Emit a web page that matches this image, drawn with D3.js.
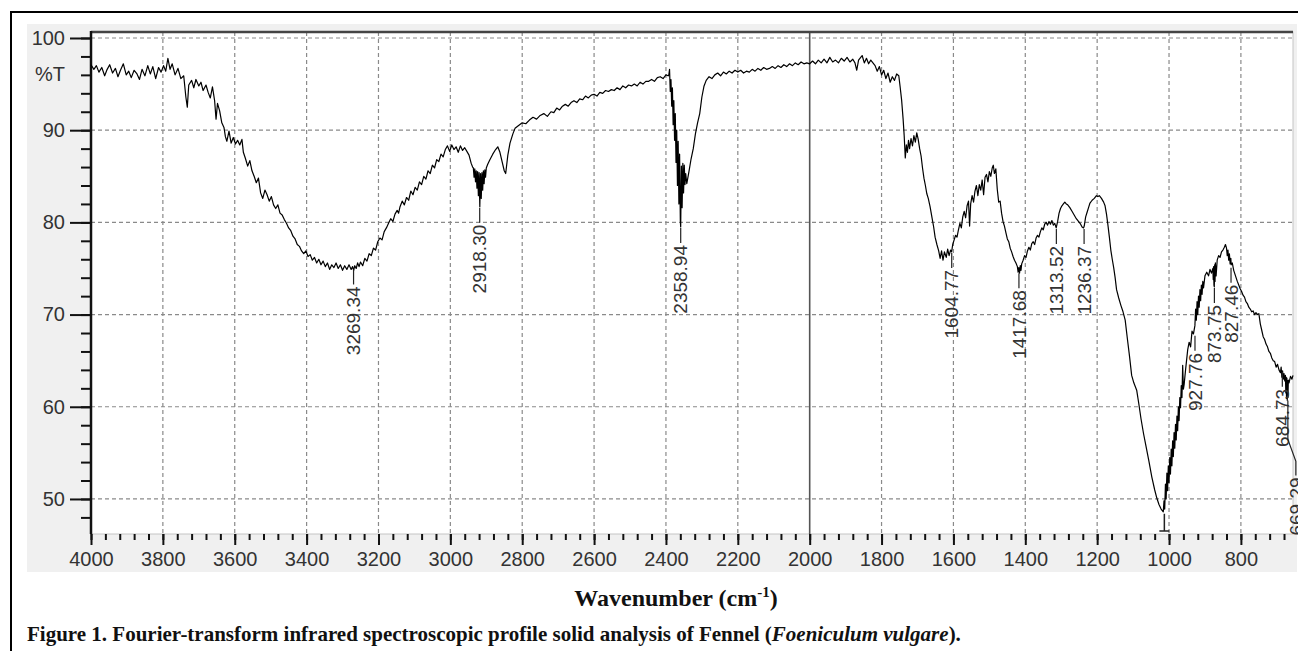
<!DOCTYPE html>
<html>
<head>
<meta charset="utf-8">
<script src="https://cdn.jsdelivr.net/npm/d3@7/dist/d3.min.js"></script>
<style>
    body { margin: 0; background: #fff; }
    svg { display: block; }
</style>
</head>
<body>
<div id="chart-area"></div>
<script>

// DATA
// =====

// [wavenumber (cm-1), %T]
var spectrum = [
    [4000, 97.1], [3992, 96.6], [3985, 97.0], [3978, 96.3], [3970, 96.8], [3962, 95.9], [3955, 96.6], [3948, 97.1],
    [3940, 96.2], [3932, 96.7], [3925, 95.8], [3918, 96.5], [3910, 97.2], [3902, 96.0], [3895, 96.4], [3888, 95.7],
    [3880, 96.5], [3872, 96.1], [3865, 95.5], [3858, 96.6], [3850, 95.9], [3842, 97.0], [3835, 96.1], [3828, 96.9],
    [3820, 95.6], [3812, 96.8], [3805, 96.3], [3798, 97.0], [3792, 96.4], [3786, 97.8], [3780, 96.6], [3774, 97.2],
    [3766, 96.0], [3758, 96.7], [3750, 95.6], [3742, 95.9], [3736, 93.6], [3732, 92.5], [3728, 94.9], [3720, 95.4],
    [3714, 94.6], [3708, 95.5], [3700, 94.8], [3694, 95.2], [3688, 94.3], [3680, 94.9], [3674, 94.1], [3668, 93.5],
    [3662, 94.7], [3656, 93.2], [3652, 91.2], [3648, 92.9], [3642, 92.1], [3636, 90.8], [3630, 90.3], [3626, 89.3],
    [3622, 88.8], [3616, 89.9], [3610, 88.6], [3604, 89.2], [3598, 88.5], [3592, 88.9], [3586, 88.4], [3580, 89.0],
    [3576, 87.6], [3570, 86.9], [3564, 86.1], [3558, 86.7], [3552, 85.6], [3546, 85.0], [3540, 84.3], [3534, 84.8],
    [3528, 83.2], [3522, 82.6], [3516, 83.5], [3510, 83.0], [3504, 82.3], [3498, 82.8], [3492, 81.9], [3486, 81.5],
    [3480, 81.9], [3474, 81.0], [3468, 80.8], [3462, 80.3], [3456, 79.9], [3450, 79.4], [3444, 79.1], [3438, 78.5],
    [3432, 78.2], [3426, 77.6], [3420, 77.4], [3414, 76.9], [3408, 76.6], [3402, 76.9], [3396, 76.3], [3390, 76.5],
    [3384, 75.9], [3378, 76.2], [3372, 75.6], [3366, 76.0], [3360, 75.4], [3354, 75.8], [3348, 75.2], [3342, 75.6],
    [3336, 74.9], [3330, 75.4], [3324, 75.1], [3318, 75.6], [3312, 75.0], [3306, 75.4], [3300, 74.8], [3294, 75.3],
    [3288, 74.9], [3282, 75.4], [3276, 74.9], [3272, 75.2], [3269, 74.8], [3266, 75.3], [3262, 75.0], [3258, 75.6],
    [3254, 75.2], [3250, 75.7], [3244, 75.3], [3238, 76.1], [3232, 75.8], [3226, 76.6], [3220, 76.4], [3214, 77.2],
    [3208, 77.0], [3202, 77.9], [3196, 78.3], [3190, 78.1], [3184, 79.0], [3178, 79.4], [3172, 79.9], [3166, 80.4],
    [3160, 80.1], [3154, 80.9], [3148, 81.3], [3144, 81.0], [3140, 81.7], [3134, 82.3], [3128, 81.9], [3122, 82.7],
    [3116, 82.4], [3110, 83.4], [3104, 83.0], [3098, 83.8], [3092, 83.5], [3086, 84.4], [3080, 84.1], [3074, 85.0],
    [3068, 84.7], [3062, 85.6], [3056, 85.3], [3050, 86.2], [3044, 85.9], [3038, 86.8], [3032, 86.6], [3026, 87.4],
    [3020, 87.1], [3014, 87.9], [3008, 88.3], [3002, 87.7], [2996, 88.4], [2990, 87.9], [2984, 88.2], [2978, 87.6],
    [2972, 88.3], [2966, 87.8], [2960, 88.1], [2954, 87.7], [2948, 87.3], [2942, 86.4], [2938, 86.0],
    [2936, 85.9], [2934, 84.9], [2932, 85.8], [2930, 84.4], [2928, 85.6], [2926, 83.7], [2924, 85.5], [2922, 82.9],
    [2920, 85.4], [2918, 81.7], [2916, 85.3], [2914, 82.6], [2912, 85.4], [2910, 83.5], [2908, 85.6], [2906, 84.2],
    [2904, 85.7], [2902, 84.9], [2900, 85.9], [2896, 86.3], [2890, 86.8], [2882, 87.4], [2874, 87.9], [2868, 88.2],
    [2862, 87.6], [2856, 86.6], [2850, 85.6], [2846, 85.3], [2840, 87.3], [2834, 88.6], [2826, 89.6], [2820, 90.2],
    [2810, 90.5], [2800, 90.8], [2790, 90.7], [2780, 91.1], [2770, 91.4], [2760, 91.2], [2750, 91.6], [2740, 91.8],
    [2730, 91.5], [2720, 92.0], [2712, 91.9], [2704, 92.4], [2696, 92.2], [2688, 92.6], [2680, 92.8], [2672, 92.6],
    [2664, 93.0], [2656, 93.2], [2648, 93.0], [2640, 93.4], [2632, 93.3], [2624, 93.7], [2616, 93.5], [2608, 93.8],
    [2600, 93.9], [2592, 93.7], [2584, 94.1], [2576, 94.0], [2568, 94.3], [2560, 94.2], [2552, 94.4], [2544, 94.3],
    [2536, 94.6], [2528, 94.4], [2520, 94.8], [2512, 94.6], [2504, 94.9], [2496, 94.8], [2488, 95.0], [2480, 94.8],
    [2472, 95.2], [2464, 95.0], [2456, 95.3], [2448, 95.3], [2440, 95.5], [2432, 95.3], [2424, 95.7], [2416, 95.8],
    [2408, 95.6], [2400, 96.0], [2394, 95.9], [2392, 96.0], [2390, 96.6], [2388, 94.2], [2386, 95.5], [2384, 92.6],
    [2382, 94.6], [2380, 90.6], [2378, 93.2], [2376, 88.9], [2374, 91.8], [2372, 86.5], [2370, 90.0], [2368, 84.0],
    [2366, 88.8], [2364, 82.0], [2362, 87.4], [2360, 80.2], [2359, 79.5], [2357, 86.1], [2355, 81.6], [2353, 86.4],
    [2351, 83.2], [2349, 86.2], [2347, 84.1], [2345, 85.3], [2342, 84.2], [2336, 85.5], [2330, 86.9], [2324, 88.0],
    [2318, 89.6], [2312, 90.8], [2306, 91.8], [2300, 93.6], [2294, 94.8], [2288, 95.4], [2280, 95.8], [2272, 95.6],
    [2264, 96.0], [2256, 96.2], [2248, 95.9], [2240, 96.3], [2232, 96.1], [2224, 96.4], [2216, 96.2], [2208, 96.5],
    [2200, 96.3], [2192, 96.5], [2184, 96.2], [2176, 96.4], [2168, 96.3], [2160, 96.6], [2152, 96.4], [2144, 96.7],
    [2136, 96.5], [2128, 96.8], [2120, 96.6], [2112, 96.7], [2104, 96.9], [2096, 96.7], [2088, 97.0], [2080, 96.8],
    [2072, 97.1], [2064, 96.9], [2056, 97.2], [2048, 97.0], [2040, 97.3], [2032, 97.1], [2024, 97.4], [2016, 97.2],
    [2008, 97.3], [2000, 97.2], [1992, 97.5], [1984, 97.2], [1976, 97.6], [1968, 97.3], [1960, 97.7], [1952, 97.3],
    [1944, 97.9], [1936, 97.4], [1928, 97.6], [1920, 97.3], [1912, 97.8], [1904, 97.5], [1896, 97.9], [1888, 97.4],
    [1880, 97.7], [1874, 97.3], [1869, 96.5], [1864, 97.6], [1858, 97.9], [1854, 98.1], [1848, 97.3], [1842, 97.8],
    [1836, 97.2], [1830, 97.6], [1824, 97.3], [1818, 97.0], [1812, 96.4], [1806, 96.9], [1800, 96.0], [1794, 96.5],
    [1788, 95.6], [1782, 96.2], [1776, 95.2], [1770, 95.8], [1764, 95.4], [1758, 96.1], [1752, 95.9], [1748, 94.6],
    [1744, 93.2], [1740, 91.2], [1737, 89.4], [1734, 87.0], [1731, 88.4], [1728, 87.6], [1725, 88.9], [1722, 88.0],
    [1718, 89.1], [1714, 88.3], [1710, 89.4], [1706, 88.7], [1702, 89.7], [1698, 89.0], [1694, 88.0], [1690, 87.2],
    [1686, 85.9], [1682, 84.8], [1678, 84.0], [1674, 83.1], [1670, 82.6], [1665, 81.7], [1660, 80.6], [1655, 79.5],
    [1651, 78.4], [1646, 77.6], [1641, 76.9], [1637, 76.1], [1633, 76.9], [1629, 75.9], [1625, 76.8], [1620, 76.2],
    [1616, 77.1], [1612, 76.4], [1608, 77.0], [1605, 76.8], [1602, 77.6], [1598, 78.1], [1594, 78.6], [1590, 78.4],
    [1586, 79.2], [1582, 79.9], [1578, 79.4], [1574, 80.6], [1570, 81.2], [1566, 80.5], [1562, 81.8], [1558, 82.3],
    [1555, 79.6], [1552, 82.0], [1548, 82.9], [1544, 82.2], [1540, 83.4], [1536, 84.0], [1532, 82.9], [1528, 84.1],
    [1524, 83.5], [1520, 84.6], [1516, 83.0], [1512, 84.9], [1508, 85.2], [1504, 84.4], [1500, 85.5], [1496, 85.0],
    [1492, 85.9], [1489, 86.2], [1486, 85.3], [1482, 85.8], [1478, 83.6], [1474, 82.2], [1470, 82.3], [1466, 81.0],
    [1462, 80.1], [1458, 79.6], [1454, 78.9], [1450, 78.2], [1446, 77.9], [1442, 77.2], [1438, 76.8], [1434, 76.3],
    [1430, 75.9], [1426, 75.6], [1422, 75.2], [1420, 74.6], [1418, 75.1], [1416, 74.5], [1414, 75.3], [1412, 74.8],
    [1410, 75.5], [1406, 75.9], [1402, 76.4], [1398, 76.2], [1394, 76.9], [1390, 77.3], [1386, 77.0], [1382, 77.7],
    [1378, 77.9], [1374, 77.6], [1370, 78.3], [1366, 78.6], [1362, 78.4], [1358, 79.0], [1354, 79.4], [1350, 79.2],
    [1346, 79.8], [1342, 80.0], [1338, 79.7], [1334, 80.1], [1330, 79.8], [1326, 80.2], [1322, 79.7], [1318, 79.9],
    [1314, 79.4], [1310, 80.1], [1306, 81.0], [1302, 81.5], [1298, 81.8], [1294, 82.0], [1290, 82.2], [1286, 82.0],
    [1282, 81.9], [1276, 81.6], [1270, 81.2], [1264, 80.8], [1258, 80.4], [1252, 80.1], [1246, 79.8], [1242, 79.5],
    [1238, 79.4], [1236, 79.6], [1232, 80.6], [1228, 81.1], [1224, 81.6], [1220, 82.1], [1214, 82.4], [1208, 82.6],
    [1202, 82.9], [1198, 82.8], [1194, 82.9], [1188, 82.6], [1182, 82.2], [1178, 81.8], [1174, 80.9], [1170, 79.7],
    [1166, 78.4], [1162, 77.0], [1158, 76.0], [1154, 75.1], [1150, 74.0], [1146, 72.7], [1140, 71.8], [1134, 71.0],
    [1128, 70.3], [1122, 69.4], [1116, 67.4], [1110, 65.5], [1104, 63.4], [1098, 62.6], [1090, 61.8], [1084, 60.3],
    [1078, 58.7], [1071, 57.1], [1064, 55.7], [1056, 54.1], [1048, 52.4], [1040, 51.0], [1034, 50.1], [1028, 49.4],
    [1022, 48.9], [1016, 48.6], [1014, 49.8], [1012, 48.9], [1010, 51.6], [1008, 50.0], [1006, 52.8], [1004, 50.9],
    [1002, 53.6], [1000, 51.8], [998, 54.5], [996, 52.7], [994, 55.4], [992, 53.6], [990, 56.3], [988, 54.6],
    [986, 57.2], [984, 55.5], [982, 58.1], [980, 56.4], [978, 59.0], [976, 57.4], [974, 60.0], [972, 58.5],
    [970, 61.0], [968, 59.9], [966, 62.3], [964, 61.0], [962, 64.5], [960, 61.9], [958, 62.4], [954, 64.0],
    [948, 66.2], [944, 67.0], [940, 66.5], [936, 68.2], [932, 67.9], [928, 68.8], [926, 70.6], [924, 69.4],
    [922, 71.4], [920, 70.0], [918, 72.0], [916, 70.8], [914, 72.7], [912, 71.5], [910, 73.2], [908, 72.2],
    [906, 73.6], [904, 72.9], [900, 74.2], [895, 74.6], [890, 74.2], [886, 74.9], [882, 74.5], [878, 75.0],
    [877, 73.8], [876, 75.2], [875, 73.2], [874, 73.0], [873, 75.4], [872, 73.6], [871, 75.6], [869, 74.2],
    [866, 75.9], [862, 76.4], [858, 76.2], [854, 76.8], [850, 77.0], [846, 77.3], [843, 77.6], [840, 77.2],
    [838, 76.4], [836, 77.0], [834, 75.9], [832, 76.6], [830, 75.5], [828, 76.1], [827, 75.4], [824, 75.6],
    [820, 74.8], [815, 74.2], [810, 73.6], [806, 73.2], [802, 72.8], [798, 72.5], [794, 72.1], [790, 71.9],
    [786, 71.4], [782, 71.2], [778, 70.8], [774, 70.6], [770, 70.3], [766, 70.4], [762, 70.0], [758, 70.2],
    [754, 70.0], [750, 70.1], [746, 69.0], [742, 68.3], [738, 67.6], [734, 67.3], [730, 66.8], [726, 66.5],
    [722, 66.0], [718, 65.8], [714, 65.3], [710, 65.0], [706, 64.9], [702, 64.3], [698, 64.6], [694, 64.0],
    [690, 63.7], [688, 64.3], [686, 63.2], [684, 63.9], [682, 63.0], [680, 63.6], [678, 62.8], [676, 63.4],
    [675, 61.5], [674, 63.2], [673, 60.9], [672, 63.1], [671, 60.7], [670, 62.8], [669, 61.0], [668, 62.9],
    [666, 62.6], [662, 63.3], [658, 63.0], [655, 63.4]
];

// labelled bands: [wavenumber, %T where the leader starts]
var peaks = [
    [3269.34, 75.0], [2918.30, 81.7], [2358.94, 79.5], [1604.77, 76.8], [1417.68, 74.6],
    [1313.52, 79.4], [1236.37, 79.4], [927.76, 67.8], [873.75, 73.0], [827.46, 75.2], [684.73, 63.9]
];
var clippedPeak = [669.29, 60.8];
var minBand = [1013, 48.6];

var xTicks = [4000, 3800, 3600, 3400, 3200, 3000, 2800, 2600, 2400, 2200, 2000, 1800, 1600, 1400, 1200, 1000, 800];
var yTicks = [100, 90, 80, 70, 60, 50];
var yUnit = ['%T', 96];


// CANVAS + MARGINS
// =================

var margin = { left: 91, top: 32 },
    width = 1202,
    height = 502;

var svg = d3.select('#chart-area')
    .append('svg')
        .attr('width', 1298)
        .attr('height', 651);

// outer frame + grey panel
svg.append('rect')
    .attr('x', 11).attr('y', 12)
    .attr('width', 1320).attr('height', 700)
    .attr('fill', '#fff')
    .attr('stroke', '#000')
    .attr('stroke-width', 2);

svg.append('rect')
    .attr('x', 27).attr('y', 24)
    .attr('width', 1270).attr('height', 548)
    .attr('fill', '#f0f0f0');

var g = svg.append('g')
    .attr('transform', 'translate(' + margin.left + ',' + margin.top + ')');

var x = d3.scaleLinear().domain([4000, 655]).range([0, width]);
var y = d3.scaleLinear().domain([46.2, 100.65]).range([height, 0]);

g.append('rect')
    .attr('width', width).attr('height', height)
    .attr('fill', '#fff')
    .attr('stroke', '#c4c4c4');


// GRID
// =====

g.append('g').selectAll('line')
    .data(xTicks.slice(1))
    .enter().append('line')
        .attr('x1', d => x(d)).attr('x2', d => x(d))
        .attr('y1', 0).attr('y2', height)
        .attr('stroke', d => d === 2000 ? '#555' : '#8a8a8a')
        .attr('stroke-width', d => d === 2000 ? 1.6 : 1.2)
        .attr('stroke-dasharray', d => d === 2000 ? null : '4,3');

g.append('g').selectAll('line')
    .data(yTicks)
    .enter().append('line')
        .attr('x1', 0).attr('x2', width)
        .attr('y1', d => y(d)).attr('y2', d => y(d))
        .attr('stroke', '#8a8a8a')
        .attr('stroke-width', 1.2)
        .attr('stroke-dasharray', '4,3');

// dark top edge
g.append('line')
    .attr('x1', 0).attr('x2', width)
    .attr('y1', 0).attr('y2', 0)
    .attr('stroke', '#444')
    .attr('stroke-width', 2.5);


// AXES
// =====

var font = '"Liberation Sans", Arial, sans-serif';

var yMinor = g.append('g')
    .call(d3.axisLeft(y).tickValues(d3.range(48, 101, 2)).tickSize(10).tickFormat(''));
var yMajor = g.append('g')
    .call(d3.axisLeft(y).tickValues(yTicks).tickSize(21).tickPadding(5).tickFormat(d3.format('d')));

var xMinor = g.append('g')
    .attr('transform', 'translate(0,' + height + ')')
    .call(d3.axisBottom(x).tickValues(d3.range(4000, 660, -40)).tickSize(6).tickFormat(''));
var xMajor = g.append('g')
    .attr('transform', 'translate(0,' + height + ')')
    .call(d3.axisBottom(x).tickValues(xTicks).tickSize(11).tickPadding(7).tickFormat(d3.format('d')));

[yMinor, yMajor, xMinor, xMajor].forEach(a => {
    a.select('.domain').remove();
    a.selectAll('line').attr('stroke', '#111').attr('stroke-width', 2);
    a.selectAll('text')
        .attr('font-family', font)
        .attr('font-size', '20px')
        .attr('fill', '#333');
});

g.append('text')
    .attr('x', -26)
    .attr('y', y(yUnit[1]))
    .attr('dy', '0.32em')
    .attr('text-anchor', 'end')
    .attr('font-family', font)
    .attr('font-size', '20px')
    .attr('fill', '#333')
    .text(yUnit[0]);

g.append('line')
    .attr('x1', 0).attr('x2', 0)
    .attr('y1', -1).attr('y2', height)
    .attr('stroke', '#111')
    .attr('stroke-width', 2.5);


// SPECTRUM
// =========

var line = d3.line()
    .x(d => x(d[0]))
    .y(d => y(d[1]));

g.append('path')
    .datum(spectrum)
    .attr('d', line)
    .attr('fill', 'none')
    .attr('stroke', '#000')
    .attr('stroke-width', 1.2)
    .attr('stroke-linejoin', 'round');


// PEAK LABELS
// ============

var peak = g.selectAll('.peak')
    .data(peaks)
    .enter().append('g')
        .attr('class', 'peak');

peak.append('line')
    .attr('x1', d => x(d[0])).attr('x2', d => x(d[0]))
    .attr('y1', d => y(d[1]) + 1)
    .attr('y2', d => y(d[1]) + 16)
    .attr('stroke', '#222')
    .attr('stroke-width', 1.2);

peak.append('text')
    .attr('transform', d => 'translate(' + x(d[0]) + ',' + (y(d[1]) + 18) + ') rotate(-90)')
    .attr('text-anchor', 'end')
    .attr('dy', '0.35em')
    .attr('font-family', font)
    .attr('font-size', '19px')
    .attr('fill', '#333')
    .text(d => d[0].toFixed(2));

// last band runs off the right edge, leader bent aside
var cx = x(clippedPeak[0]), cy = y(clippedPeak[1]);
g.append('path')
    .attr('d', 'M' + cx + ',' + (cy + 1) + 'V' + (cy + 40) + 'L' + (cx + 8) + ',' + (cy + 62) + 'V' + (cy + 76))
    .attr('fill', 'none')
    .attr('stroke', '#222')
    .attr('stroke-width', 1.2);
g.append('text')
    .attr('transform', 'translate(' + (cx + 8) + ',' + (cy + 78) + ') rotate(-90)')
    .attr('text-anchor', 'end')
    .attr('dy', '0.35em')
    .attr('font-family', font)
    .attr('font-size', '19px')
    .attr('fill', '#333')
    .text(clippedPeak[0].toFixed(2));

// strongest band: marker only, its label falls below the frame
var mx = x(minBand[0]);
g.append('path')
    .attr('d', 'M' + mx + ',' + (y(minBand[1]) + 2) + 'V' + (height - 3) + 'M' + (mx - 5) + ',' + (height - 3) + 'H' + (mx + 5))
    .attr('fill', 'none')
    .attr('stroke', '#222')
    .attr('stroke-width', 1.5);


// TITLES
// =======

var serif = '"Liberation Serif", "Times New Roman", serif';

var xt = svg.append('text')
    .attr('x', 676)
    .attr('y', 606)
    .attr('text-anchor', 'middle')
    .attr('font-family', serif)
    .attr('font-weight', 'bold')
    .attr('font-size', '24px')
    .attr('fill', '#111');
xt.append('tspan').text('Wavenumber (cm');
xt.append('tspan').attr('dy', -9).attr('font-size', '15px').text('-1');
xt.append('tspan').attr('dy', 9).text(')');

var cap = svg.append('text')
    .attr('x', 27)
    .attr('y', 641)
    .attr('font-family', serif)
    .attr('font-weight', 'bold')
    .attr('font-size', '21px')
    .attr('fill', '#111');
cap.append('tspan').text('Figure 1. Fourier-transform infrared spectroscopic profile solid analysis of Fennel (');
cap.append('tspan').attr('font-style', 'italic').text('Foeniculum vulgare');
cap.append('tspan').text(').');

</script>
</body>
</html>
